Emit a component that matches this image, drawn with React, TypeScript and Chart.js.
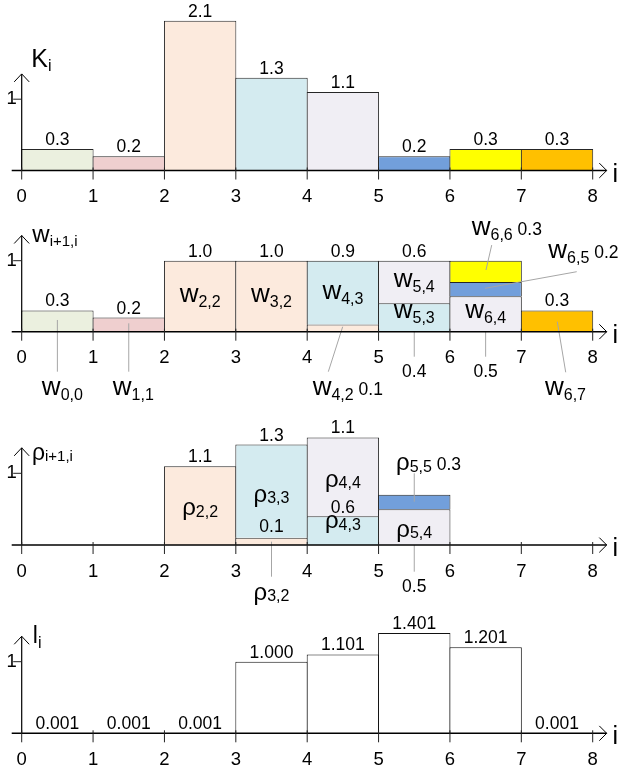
import React, { useEffect, useRef } from 'react';
import { Chart, registerables } from 'chart.js';

Chart.register(...registerables);

// ---------- data ----------
const X_TICKS = [0, 1, 2, 3, 4, 5, 6, 7, 8];
const Y_TICK = 1;

// colour of each "row" i (shared by all panels)
const ROW_COLORS = ['#EBF0DF', '#EFCFCF', '#FCEADD', '#D4EBF0', '#F0EEF4', '#729FDB', '#FFFF00', '#FFC000'];

// Panel 1: K_i
const K_COLUMNS = [0, 1, 2, 3, 4, 5, 6, 7];
const K_VALUES = [0.3, 0.2, 2.1, 1.3, 1.1, 0.2, 0.3, 0.3];
const K_LABELS = ['0.3', '0.2', '2.1', '1.3', '1.1', '0.2', '0.3', '0.3'];

// Panel 2: w_{i+1,i} (stacked segments)
const W_COLUMN = [0, 1, 2, 3, 4, 4, 5, 5, 6, 6, 6, 7];
const W_LOW = [0, 0, 0, 0, 0, 0.1, 0, 0.4, 0, 0.5, 0.7, 0];
const W_HIGH = [0.3, 0.2, 1.0, 1.0, 0.1, 1.0, 0.4, 1.0, 0.5, 0.7, 1.0, 0.3];
const W_ROW = [0, 1, 2, 2, 2, 3, 3, 4, 4, 5, 6, 7];
const W_TOP_COLUMN = [0, 1, 2, 3, 4, 5, 7];
const W_TOP_LABELS = ['0.3', '0.2', '1.0', '1.0', '0.9', '0.6', '0.3'];

// Panel 3: rho_{i+1,i}
const R_COLUMN = [2, 3, 3, 4, 4, 5, 5];
const R_LOW = [0, 0, 0.1, 0, 0.4, 0, 0.5];
const R_HIGH = [1.1, 0.1, 1.4, 0.4, 1.5, 0.5, 0.7];
const R_ROW = [2, 2, 3, 3, 4, 4, 5];
const R_TOP_COLUMN = [2, 3, 4];
const R_TOP_LABELS = ['1.1', '1.3', '1.1'];

// Panel 4: l_i
const L_COLUMNS = [0, 1, 2, 3, 4, 5, 6, 7];
const L_VALUES = [0.001, 0.001, 0.001, 1.0, 1.101, 1.401, 1.201, 0.001];
const L_LABELS = ['0.001', '0.001', '0.001', '1.000', '1.101', '1.401', '1.201', '0.001'];

// ---------- layout / style ----------
const W = 623;
const H = 771;
const FONT = '"Liberation Sans", Arial, Helvetica, sans-serif';
const X_ORIGIN_PX = 21.7;
const X_UNIT_PX = 71.375;
const X_AXIS_START = -0.14;
const X_AXIS_END = 8.196;
const Y_AXIS_END = 1.355;
const BORDER = '#262626';
const LEADER = '#A6A6A6';

type Part = { text: string; size: number; dy?: number };

const PANELS = [
  { id: 'y1', axisPx: 170.5, unitPx: 71.3, title: [{ text: 'K', size: 25 }, { text: 'i', size: 16, dy: 4 }] as Part[], titleDx: 9.6, titleDy: -6.6 },
  { id: 'y2', axisPx: 331.7, unitPx: 71.0, title: [{ text: 'w', size: 24 }, { text: 'i+1,i', size: 15, dy: 3.5 }] as Part[], titleDx: 10.6, titleDy: 6.7 },
  { id: 'y3', axisPx: 545.0, unitPx: 71.7, title: [{ text: 'ρ', size: 23 }, { text: 'i+1,i', size: 15, dy: 1 }] as Part[], titleDx: 10.2, titleDy: 12.1 },
  { id: 'y4', axisPx: 733.3, unitPx: 71.6, title: [{ text: 'l', size: 23 }, { text: 'i', size: 16, dy: 5 }] as Part[], titleDx: 11.1, titleDy: 6.6 },
];

type Ann = { panel: number; x: number; y: number; main: string; sub?: string; tail?: string; align?: 'left' | 'center' };
const ANNOTATIONS: Ann[] = [
  { panel: 1, x: 2.5, y: 0.42, main: 'w', sub: '2,2' },
  { panel: 1, x: 3.5, y: 0.42, main: 'w', sub: '3,2' },
  { panel: 1, x: 4.5, y: 0.456, main: 'w', sub: '4,3' },
  { panel: 1, x: 5.5, y: 0.625, main: 'w', sub: '5,4' },
  { panel: 1, x: 5.5, y: 0.197, main: 'w', sub: '5,3' },
  { panel: 1, x: 6.5, y: 0.19, main: 'w', sub: '6,4' },
  { panel: 1, x: 0.57, y: -0.89, main: 'w', sub: '0,0' },
  { panel: 1, x: 1.564, y: -0.89, main: 'w', sub: '1,1' },
  { panel: 1, x: 4.077, y: -0.89, main: 'w', sub: '4,2', tail: '0.1', align: 'left' },
  { panel: 1, x: 5.5, y: -0.634, main: '0.4' },
  { panel: 1, x: 6.5, y: -0.634, main: '0.5' },
  { panel: 1, x: 7.619, y: -0.89, main: 'w', sub: '6,7' },
  { panel: 1, x: 6.305, y: 1.362, main: 'w', sub: '6,6', tail: '0.3', align: 'left' },
  { panel: 1, x: 7.378, y: 1.034, main: 'w', sub: '6,5', tail: '0.2', align: 'left' },
  { panel: 2, x: 2.5, y: 0.418, main: 'ρ', sub: '2,2' },
  { panel: 2, x: 3.5, y: 0.604, main: 'ρ', sub: '3,3' },
  { panel: 2, x: 3.5, y: 0.186, main: '0.1' },
  { panel: 2, x: 3.5, y: -0.767, main: 'ρ', sub: '3,2' },
  { panel: 2, x: 4.5, y: 0.813, main: 'ρ', sub: '4,4' },
  { panel: 2, x: 4.5, y: 0.45, main: '0.6' },
  { panel: 2, x: 4.5, y: 0.233, main: 'ρ', sub: '4,3' },
  { panel: 2, x: 5.244, y: 1.046, main: 'ρ', sub: '5,5', tail: '0.3', align: 'left' },
  { panel: 2, x: 5.5, y: 0.116, main: 'ρ', sub: '5,4' },
  { panel: 2, x: 5.5, y: -0.651, main: '0.5' },
];

const LEADERS = [
  { panel: 1, x1: 0.5, y1: 0.165, x2: 0.5, y2: -0.563 },
  { panel: 1, x1: 1.5, y1: 0.118, x2: 1.5, y2: -0.563 },
  { panel: 1, x1: 4.497, y1: 0.07, x2: 4.296, y2: -0.563 },
  { panel: 1, x1: 5.5, y1: 0, x2: 5.5, y2: -0.352 },
  { panel: 1, x1: 6.5, y1: 0, x2: 6.5, y2: -0.352 },
  { panel: 1, x1: 7.504, y1: 0.141, x2: 7.622, y2: -0.572 },
  { panel: 1, x1: 6.585, y1: 1.22, x2: 6.505, y2: 0.869 },
  { panel: 1, x1: 7.776, y1: 0.845, x2: 6.491, y2: 0.611 },
  { panel: 2, x1: 3.5, y1: 0.046, x2: 3.5, y2: -0.442 },
  { panel: 2, x1: 5.5, y1: 1.0, x2: 5.5, y2: 0.604 },
  { panel: 2, x1: 5.5, y1: 0, x2: 5.5, y2: -0.372 },
];

function topLabels(columns: number[], lows: number[], highs: number[], topCols: number[], labels: string[]) {
  return topCols.map((c, k) => {
    let top = 0;
    columns.forEach((cc, j) => { if (cc === c) top = Math.max(top, highs[j]); });
    return { x: c + 0.5, top, text: labels[k] };
  });
}

const TOP_LABELS = [
  K_COLUMNS.map((c, k) => ({ x: c + 0.5, top: K_VALUES[k], text: K_LABELS[k] })),
  topLabels(W_COLUMN, W_LOW, W_HIGH, W_TOP_COLUMN, W_TOP_LABELS),
  topLabels(R_COLUMN, R_LOW, R_HIGH, R_TOP_COLUMN, R_TOP_LABELS),
  L_COLUMNS.map((c, k) => ({ x: c + 0.5, top: L_VALUES[k], text: L_LABELS[k] })),
];

function drawRich(ctx: CanvasRenderingContext2D, x: number, y: number, parts: Part[], align: 'left' | 'center') {
  const widths = parts.map((p) => { ctx.font = `${p.size}px ${FONT}`; return ctx.measureText(p.text).width; });
  const total = widths.reduce((a, b) => a + b, 0);
  let cx = align === 'left' ? x : x - total / 2;
  ctx.textAlign = 'left';
  ctx.textBaseline = 'alphabetic';
  parts.forEach((p, i) => {
    ctx.font = `${p.size}px ${FONT}`;
    ctx.fillText(p.text, cx, y + (p.dy || 0));
    cx += widths[i];
  });
}

function annParts(a: Ann): Part[] {
  if (!a.sub) return [{ text: a.main, size: 17.5 }];
  const greek = a.main === 'ρ';
  const parts: Part[] = [
    { text: a.main, size: greek ? 24 : 26 },
    { text: a.sub, size: 16, dy: greek ? 1.5 : 5 },
  ];
  if (a.tail) parts.push({ text: ' ' + a.tail, size: 17.5 });
  return parts;
}

const panelPlugin = {
  id: 'panelAxes',
  afterDatasetsDraw(chart: any) {
    const ctx: CanvasRenderingContext2D = chart.ctx;
    const xs = chart.scales.x;
    const X = (v: number) => xs.getPixelForValue(v);
    const line = (a: number, b: number, c: number, d: number) => {
      ctx.beginPath(); ctx.moveTo(a, b); ctx.lineTo(c, d); ctx.stroke();
    };
    PANELS.forEach((p, pi) => {
      const ys = chart.scales[p.id];
      const Y = (v: number) => ys.getPixelForValue(v);
      const y0 = Y(0);
      const x0 = X(0);
      ctx.save();
      // leader lines
      ctx.strokeStyle = LEADER;
      ctx.lineWidth = 1;
      LEADERS.filter((l) => l.panel === pi).forEach((l) => line(X(l.x1), Y(l.y1), X(l.x2), Y(l.y2)));
      // axes
      ctx.strokeStyle = '#000';
      ctx.lineWidth = 1.4;
      const xEnd = X(X_AXIS_END);
      line(X(X_AXIS_START), y0, xEnd, y0);
      ctx.lineWidth = 1;
      ctx.beginPath(); ctx.moveTo(xEnd - 7.4, y0 - 7.4); ctx.lineTo(xEnd, y0); ctx.lineTo(xEnd - 7.4, y0 + 7.4); ctx.stroke();
      const yTip = Y(Y_AXIS_END);
      ctx.lineWidth = 1.2;
      line(x0, yTip, x0, y0);
      ctx.lineWidth = 1;
      ctx.beginPath(); ctx.moveTo(x0 - 7.5, yTip + 8); ctx.lineTo(x0, yTip); ctx.lineTo(x0 + 7.5, yTip + 8); ctx.stroke();
      // ticks
      ctx.strokeStyle = '#222';
      X_TICKS.forEach((t) => line(X(t), y0 - 3, X(t), y0 + 9));
      line(x0 - 8.5, Y(Y_TICK), x0, Y(Y_TICK));
      // tick labels
      ctx.fillStyle = '#000';
      ctx.font = `18.5px ${FONT}`;
      ctx.textAlign = 'center';
      ctx.textBaseline = 'alphabetic';
      X_TICKS.forEach((t) => ctx.fillText(String(t), X(t), y0 + 31.5));
      ctx.textAlign = 'right';
      ctx.textBaseline = 'middle';
      ctx.fillText(String(Y_TICK), x0 - 5, Y(Y_TICK));
      // axis titles
      drawRich(ctx, x0 + p.titleDx, yTip + p.titleDy, p.title, 'left');
      drawRich(ctx, xEnd + 5.8, y0 + 11, [{ text: 'i', size: 25 }], 'left');
      // values above bars
      ctx.font = `17.5px ${FONT}`;
      ctx.textAlign = 'center';
      ctx.textBaseline = 'alphabetic';
      TOP_LABELS[pi].forEach((t) => ctx.fillText(t.text, X(t.x), Y(t.top) - 4));
      // annotations
      ANNOTATIONS.filter((a) => a.panel === pi).forEach((a) => drawRich(ctx, X(a.x), Y(a.y), annParts(a), a.align || 'center'));
      ctx.restore();
    });
  },
};

function barDataset(columns: number[], lows: number[], highs: number[], colors: string[], yAxisID: string) {
  return {
    type: 'bar' as const,
    yAxisID,
    data: columns.map((c, k) => ({ x: c + 0.5, y: [lows[k], highs[k]] })),
    backgroundColor: colors,
    borderColor: BORDER,
    borderWidth: { top: 1, left: 1, right: 1, bottom: 0 },
    borderSkipped: false,
    grouped: false,
    barPercentage: 1 + 1 / X_UNIT_PX,
    categoryPercentage: 1,
  };
}

export default function App() {
  const ref = useRef<HTMLCanvasElement | null>(null);
  useEffect(() => {
    if (!ref.current) return;
    const scales: any = {
      x: {
        type: 'linear',
        display: false,
        offset: false,
        grid: { offset: false },
        min: -X_ORIGIN_PX / X_UNIT_PX,
        max: (W - X_ORIGIN_PX) / X_UNIT_PX,
        ticks: { stepSize: 1, includeBounds: false },
      },
    };
    PANELS.forEach((p) => {
      scales[p.id] = {
        type: 'linear',
        display: false,
        offset: false,
        min: -(H - p.axisPx) / p.unitPx,
        max: p.axisPx / p.unitPx,
      };
    });
    const datasets = [
      barDataset(K_COLUMNS, K_COLUMNS.map(() => 0), K_VALUES, K_COLUMNS.map((c) => ROW_COLORS[c]), 'y1'),
      barDataset(W_COLUMN, W_LOW, W_HIGH, W_ROW.map((r) => ROW_COLORS[r]), 'y2'),
      barDataset(R_COLUMN, R_LOW, R_HIGH, R_ROW.map((r) => ROW_COLORS[r]), 'y3'),
      { ...barDataset(L_COLUMNS, L_COLUMNS.map(() => 0), L_VALUES, L_COLUMNS.map(() => '#FFFFFF'), 'y4'), borderColor: '#111' },
    ];
    const chart = new Chart(ref.current, {
      type: 'bar',
      data: { datasets: datasets as any },
      options: {
        responsive: false,
        animation: false,
        devicePixelRatio: 1,
        events: [],
        layout: { padding: 0 },
        plugins: { legend: { display: false }, tooltip: { enabled: false }, title: { display: false } },
        scales,
      },
      plugins: [panelPlugin],
    } as any);
    return () => chart.destroy();
  }, []);
  return (
    <div style={{ position: 'fixed', left: 0, top: 0, width: W, height: H, background: '#fff' }}>
      <canvas ref={ref} width={W} height={H} style={{ display: 'block', width: W, height: H }} />
    </div>
  );
}
